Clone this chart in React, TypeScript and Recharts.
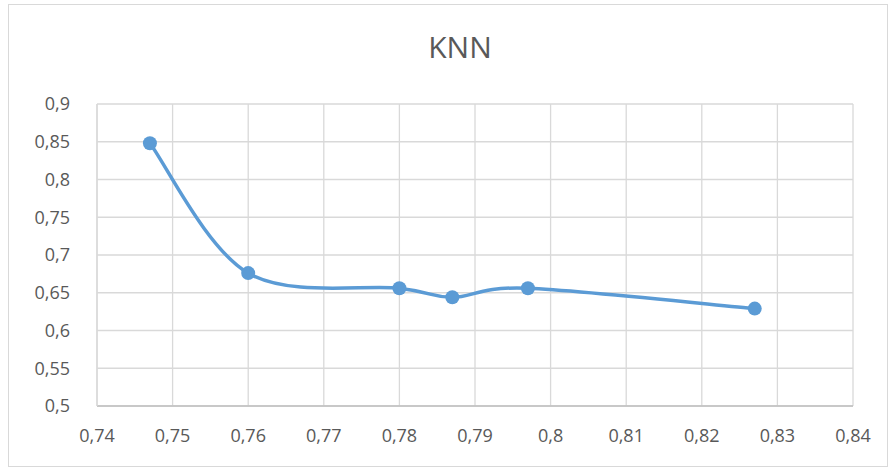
import React from 'react';
import { LineChart, Line, XAxis, YAxis, CartesianGrid } from 'recharts';

// accuracy (x) vs value (y)
const xValues = [0.747, 0.76, 0.78, 0.787, 0.797, 0.827];
const yValues = [0.848, 0.676, 0.656, 0.644, 0.656, 0.629];
const xTicks = [0.74, 0.75, 0.76, 0.77, 0.78, 0.79, 0.8, 0.81, 0.82, 0.83, 0.84];
const yTicks = [0.5, 0.55, 0.6, 0.65, 0.7, 0.75, 0.8, 0.85, 0.9];

const data = xValues.map((x, i) => ({ x, y: yValues[i] }));

const fmt = (v: number) => String(Number(v.toFixed(2))).replace('.', ',');

const font = '"Open Sans", "Liberation Sans", sans-serif';

// Excel-style smoothed line (Catmull-Rom with 1/6 handles)
const excelCurve = (context: any) => {
  let pts: [number, number][] = [];
  return {
    areaStart() {},
    areaEnd() {},
    lineStart() {
      pts = [];
    },
    point(x: number, y: number) {
      pts.push([+x, +y]);
    },
    lineEnd() {
      if (!pts.length) return;
      context.moveTo(pts[0][0], pts[0][1]);
      for (let i = 0; i < pts.length - 1; i++) {
        const p0 = pts[i - 1] || pts[i];
        const p1 = pts[i];
        const p2 = pts[i + 1];
        const p3 = pts[i + 2] || pts[i + 1];
        context.bezierCurveTo(
          p1[0] + (p2[0] - p0[0]) / 6,
          p1[1] + (p2[1] - p0[1]) / 6,
          p2[0] - (p3[0] - p1[0]) / 6,
          p2[1] - (p3[1] - p1[1]) / 6,
          p2[0],
          p2[1]
        );
      }
    },
  };
};

const App: React.FC = () => {
  return (
    <div style={{ position: 'absolute', left: 0, top: 0, width: 893, height: 470, background: '#fff', fontFamily: font }}>
      <div style={{ position: 'absolute', left: 8, top: 4, width: 880, height: 463, border: '1px solid #d9d9d9', boxSizing: 'border-box' }} />
      <div style={{ position: 'absolute', left: 0, top: 26, width: 920, textAlign: 'center', fontSize: 30, color: '#595959' }}>
        KNN
      </div>
      <div style={{ position: 'absolute', left: 0, top: 0 }}>
        <LineChart width={893} height={470} data={data} margin={{ top: 104, right: 40, bottom: 24, left: 0 }}>
          <CartesianGrid stroke="#d9d9d9" strokeWidth={1.3} />
          <XAxis
            dataKey="x"
            type="number"
            domain={[0.74, 0.84]}
            ticks={xTicks}
            tickFormatter={fmt}
            tickLine={false}
            axisLine={{ stroke: '#bfbfbf', strokeWidth: 1.5 }}
            tick={{ fill: '#595959', fontSize: 18, fontFamily: font }}
            tickMargin={17}
            height={40}
            interval={0}
          />
          <YAxis
            type="number"
            domain={[0.5, 0.9]}
            ticks={yTicks}
            tickFormatter={fmt}
            tickLine={false}
            axisLine={{ stroke: '#d9d9d9', strokeWidth: 1.3 }}
            tick={{ fill: '#595959', fontSize: 18, fontFamily: font }}
            tickMargin={21}
            width={97}
            interval={0}
          />
          <Line
            dataKey="y"
            type={excelCurve as any}
            stroke="#5b9bd5"
            strokeWidth={3.5}
            dot={{ r: 7, fill: '#5b9bd5', stroke: '#5b9bd5', strokeWidth: 0 }}
            isAnimationActive={false}
          />
        </LineChart>
      </div>
    </div>
  );
};

export default App;
